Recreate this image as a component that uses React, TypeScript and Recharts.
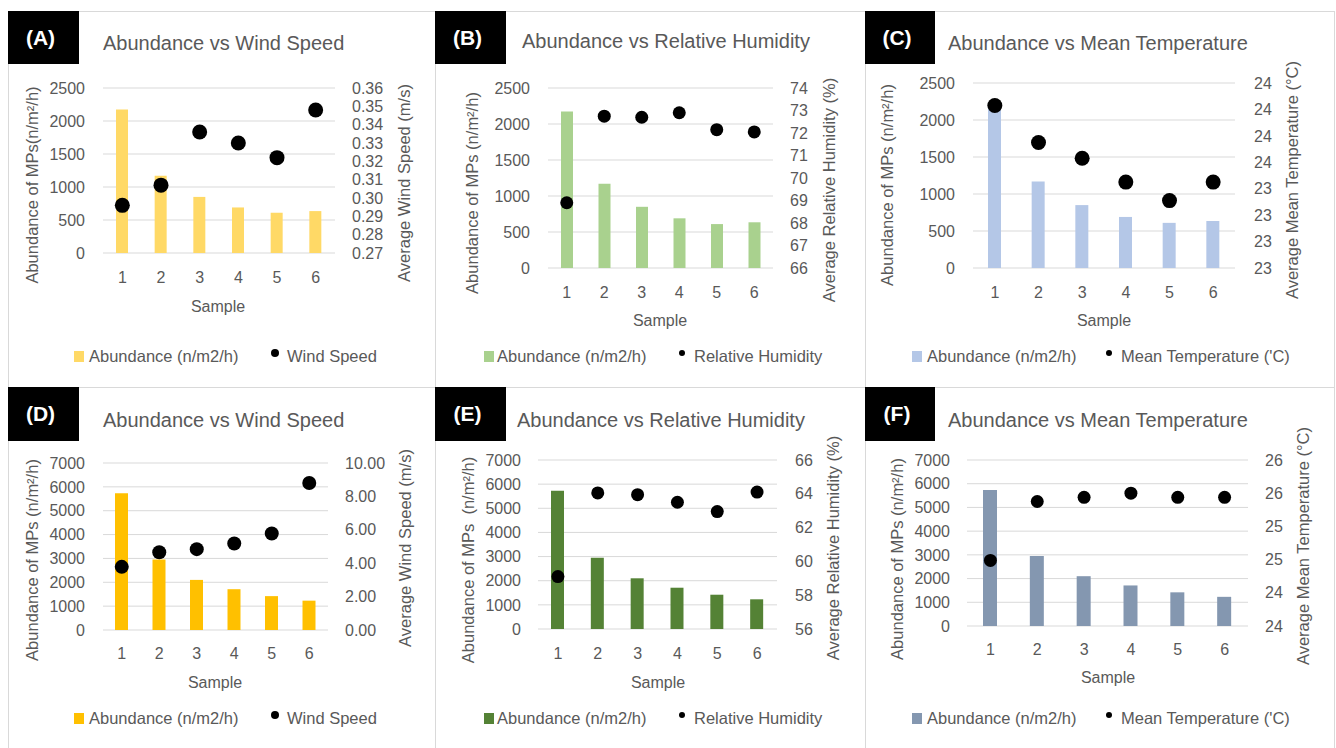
import React from "react";
import {
    ComposedChart,
    Bar,
    Scatter,
    XAxis,
    YAxis,
    CartesianGrid,
} from "recharts";

const SAMPLES = ["1", "2", "3", "4", "5", "6"];

// site 1 (top row)
const ABUNDANCE_SITE1 = [2175, 1170, 850, 690, 610, 635];
const WIND_SITE1 = [0.296, 0.307, 0.336, 0.33, 0.322, 0.348];
const HUMIDITY_SITE1 = [68.9, 72.75, 72.7, 72.9, 72.15, 72.05];
const TEMP_SITE1 = [24.03, 23.75, 23.63, 23.45, 23.31, 23.45];

// site 2 (bottom row)
const ABUNDANCE_SITE2 = [5730, 2950, 2100, 1710, 1420, 1230];
const WIND_SITE2 = [3.78, 4.66, 4.84, 5.18, 5.78, 8.8];
const HUMIDITY_SITE2 = [59.1, 64.05, 63.95, 63.5, 62.95, 64.1];
const TEMP_SITE2 = [24.79, 25.5, 25.55, 25.6, 25.55, 25.55];

const TICKS_ABUND_1 = [0, 500, 1000, 1500, 2000, 2500];
const TICKS_ABUND_2 = [0, 1000, 2000, 3000, 4000, 5000, 6000, 7000];
const TICKS_WIND_1 = [0.27, 0.28, 0.29, 0.3, 0.31, 0.32, 0.33, 0.34, 0.35, 0.36];
const TICKS_HUM_1 = [66, 67, 68, 69, 70, 71, 72, 73, 74];
const TICKS_TEMP_1 = [22.8, 23, 23.2, 23.4, 23.6, 23.8, 24, 24.2];
const TICKS_WIND_2 = [0, 2, 4, 6, 8, 10];
const TICKS_HUM_2 = [56, 58, 60, 62, 64, 66];
const TICKS_TEMP_2 = [24, 24.4, 24.8, 25.2, 25.6, 26];

const FONT = "'Liberation Sans', Arial, sans-serif";
const TEXT = "#595959";
const GRID = "#d9d9d9";

const AXIS_W = 70;
const PAD_T = 14;
const XAXIS_H = 40;

type Panel = {
    tag: string;
    boxX: number;
    boxY: number;
    boxW: number;
    boxH: number;
    title: string;
    titleX: number;
    titleY: number;
    plot: [number, number, number, number];
    abundance: number[];
    met: number[];
    leftTicks: number[];
    rightTicks: number[];
    rightFmt: (v: number) => string;
    gapL: number;
    gapR: number;
    gapX: number;
    barColor: string;
    barSize: number;
    dotR: number;
    leftTitle: string;
    leftTitleX: number;
    leftTitleY: number;
    rightTitle: string;
    rightTitleX: number;
    rightTitleY: number;
    sampleX: number;
    sampleY: number;
    legY: number;
    legSqX: number;
    legTextX: number;
    legDotX: number;
    legDotR: number;
    legTextX2: number;
    metName: string;
};

const fix2 = (v: number) => v.toFixed(2);
const fix0 = (v: number) => v.toFixed(0);

const PANELS: Panel[] = [
    {
        tag: "(A)", boxX: 8, boxY: 11, boxW: 71, boxH: 53,
        title: "Abundance vs Wind Speed", titleX: 103, titleY: 43,
        plot: [103, 88, 335, 253],
        abundance: ABUNDANCE_SITE1, met: WIND_SITE1,
        leftTicks: TICKS_ABUND_1, rightTicks: TICKS_WIND_1, rightFmt: fix2,
        gapL: 18, gapR: 17, gapX: 19,
        barColor: "#FFD966", barSize: 12, dotR: 7.5,
        leftTitle: "Abundance of MPs(n/m²/h)", leftTitleX: 32, leftTitleY: 185,
        rightTitle: "Average Wind Speed (m/s)", rightTitleX: 404, rightTitleY: 183,
        sampleX: 218, sampleY: 307,
        legY: 356, legSqX: 74, legTextX: 89, legDotX: 275, legDotR: 4, legTextX2: 287,
        metName: "Wind Speed",
    },
    {
        tag: "(B)", boxX: 435, boxY: 11, boxW: 71, boxH: 53,
        title: "Abundance vs Relative Humidity", titleX: 522, titleY: 41,
        plot: [548, 88, 773, 268],
        abundance: ABUNDANCE_SITE1, met: HUMIDITY_SITE1,
        leftTicks: TICKS_ABUND_1, rightTicks: TICKS_HUM_1, rightFmt: fix0,
        gapL: 18, gapR: 17, gapX: 19,
        barColor: "#A9D18E", barSize: 12, dotR: 6.5,
        leftTitle: "Abundance of MPs (n/m²/h)", leftTitleX: 472, leftTitleY: 193,
        rightTitle: "Average Relative Humidity (%)", rightTitleX: 829, rightTitleY: 190,
        sampleX: 660, sampleY: 321,
        legY: 356, legSqX: 484, legTextX: 497, legDotX: 682, legDotR: 3, legTextX2: 694,
        metName: "Relative Humidity",
    },
    {
        tag: "(C)", boxX: 865, boxY: 11, boxW: 70, boxH: 53,
        title: "Abundance vs Mean Temperature", titleX: 948, titleY: 43,
        plot: [973, 83, 1235, 268],
        abundance: ABUNDANCE_SITE1, met: TEMP_SITE1,
        leftTicks: TICKS_ABUND_1, rightTicks: TICKS_TEMP_1, rightFmt: fix0,
        gapL: 18, gapR: 19, gapX: 19,
        barColor: "#B4C7E7", barSize: 13, dotR: 7.5,
        leftTitle: "Abundance of MPs (n/m²/h)", leftTitleX: 887, leftTitleY: 185,
        rightTitle: "Average Mean Temperature (°C)", rightTitleX: 1292, rightTitleY: 180,
        sampleX: 1104, sampleY: 321,
        legY: 356, legSqX: 912, legTextX: 927, legDotX: 1109, legDotR: 3, legTextX2: 1121,
        metName: "Mean Temperature ('C)",
    },
    {
        tag: "(D)", boxX: 8, boxY: 387, boxW: 71, boxH: 54,
        title: "Abundance vs Wind Speed", titleX: 103, titleY: 420,
        plot: [103, 463, 328, 630],
        abundance: ABUNDANCE_SITE2, met: WIND_SITE2,
        leftTicks: TICKS_ABUND_2, rightTicks: TICKS_WIND_2, rightFmt: fix2,
        gapL: 18, gapR: 17, gapX: 18,
        barColor: "#FFC000", barSize: 13, dotR: 7,
        leftTitle: "Abundance of MPs (n/m²/h)", leftTitleX: 32, leftTitleY: 560,
        rightTitle: "Average Wind Speed (m/s)", rightTitleX: 405, rightTitleY: 548,
        sampleX: 215, sampleY: 683,
        legY: 718, legSqX: 74, legTextX: 89, legDotX: 275, legDotR: 4, legTextX2: 287,
        metName: "Wind Speed",
    },
    {
        tag: "(E)", boxX: 435, boxY: 387, boxW: 71, boxH: 54,
        title: "Abundance vs Relative Humidity", titleX: 517, titleY: 420,
        plot: [538, 460, 777, 629],
        abundance: ABUNDANCE_SITE2, met: HUMIDITY_SITE2,
        leftTicks: TICKS_ABUND_2, rightTicks: TICKS_HUM_2, rightFmt: fix0,
        gapL: 17, gapR: 18, gapX: 19,
        barColor: "#548235", barSize: 13, dotR: 6.5,
        leftTitle: "Abundance of MPs  (n/m²/h)", leftTitleX: 468, leftTitleY: 560,
        rightTitle: "Average Relative Humidity (%)", rightTitleX: 833, rightTitleY: 548,
        sampleX: 658, sampleY: 683,
        legY: 718, legSqX: 484, legTextX: 497, legDotX: 682, legDotR: 3, legTextX2: 694,
        metName: "Relative Humidity",
    },
    {
        tag: "(F)", boxX: 865, boxY: 387, boxW: 70, boxH: 54,
        title: "Abundance vs Mean Temperature", titleX: 948, titleY: 420,
        plot: [967, 460, 1248, 626],
        abundance: ABUNDANCE_SITE2, met: TEMP_SITE2,
        leftTicks: TICKS_ABUND_2, rightTicks: TICKS_TEMP_2, rightFmt: fix0,
        gapL: 17, gapR: 17, gapX: 18,
        barColor: "#8497B0", barSize: 14, dotR: 6.5,
        leftTitle: "Abundance of MPs (n/m²/h)", leftTitleX: 897, leftTitleY: 559,
        rightTitle: "Average Mean Temperature (°C)", rightTitleX: 1303, rightTitleY: 546,
        sampleX: 1108, sampleY: 678,
        legY: 718, legSqX: 912, legTextX: 927, legDotX: 1109, legDotR: 3, legTextX2: 1121,
        metName: "Mean Temperature ('C)",
    },
];

const abs = (left: number, top: number): React.CSSProperties => ({
    position: "absolute",
    left,
    top,
});

function CenterText({ x, y, text, size = 16, rotate = false }: {
    x: number; y: number; text: string; size?: number; rotate?: boolean;
}) {
    return (
        <div
            style={{
                ...abs(x, y),
                transform: `translate(-50%, -50%)${rotate ? " rotate(-90deg)" : ""}`,
                whiteSpace: "pre",
                fontSize: size,
                lineHeight: 1,
                color: TEXT,
            }}
        >
            {text}
        </div>
    );
}

function ChartPanel({ p }: { p: Panel }) {
    const [x0, y0, x1, y1] = p.plot;
    const width = x1 - x0 + AXIS_W * 2;
    const height = y1 - y0 + PAD_T + XAXIS_H;
    const rows = SAMPLES.map((s, i) => ({
        sample: s,
        abundance: p.abundance[i],
        met: p.met[i],
    }));
    const tick = { fill: TEXT, fontSize: 16, fontFamily: FONT };

    return (
        <>
            <div
                style={{
                    ...abs(p.boxX, p.boxY),
                    width: p.boxW,
                    height: p.boxH,
                    background: "#000",
                    color: "#fff",
                    fontWeight: 700,
                    fontSize: 21,
                    lineHeight: `${p.boxH}px`,
                    textAlign: "center",
                    paddingRight: 6,
                    boxSizing: "border-box",
                }}
            >
                {p.tag}
            </div>
            <div
                style={{
                    ...abs(p.titleX, p.titleY - 12),
                    height: 24,
                    lineHeight: "24px",
                    fontSize: 20,
                    color: TEXT,
                    whiteSpace: "nowrap",
                }}
            >
                {p.title}
            </div>

            <div style={{ ...abs(x0 - AXIS_W, y0 - PAD_T), width, height }}>
                <ComposedChart
                    width={width}
                    height={height}
                    data={rows}
                    margin={{ top: PAD_T, right: 0, bottom: 0, left: 0 }}
                    style={{ fontFamily: FONT }}
                >
                    <CartesianGrid
                        yAxisId="left"
                        vertical={false}
                        stroke={GRID}
                        strokeWidth={1}
                    />
                    <XAxis
                        dataKey="sample"
                        height={XAXIS_H}
                        axisLine={false}
                        tickLine={false}
                        tickSize={0}
                        tickMargin={p.gapX}
                        tick={tick}
                        interval={0}
                    />
                    <YAxis
                        yAxisId="left"
                        orientation="left"
                        width={AXIS_W}
                        domain={[p.leftTicks[0], p.leftTicks[p.leftTicks.length - 1]]}
                        ticks={p.leftTicks}
                        interval={0}
                        axisLine={false}
                        tickLine={false}
                        tickSize={0}
                        tickMargin={p.gapL}
                        tick={tick}
                    />
                    <YAxis
                        yAxisId="right"
                        orientation="right"
                        width={AXIS_W}
                        domain={[p.rightTicks[0], p.rightTicks[p.rightTicks.length - 1]]}
                        ticks={p.rightTicks}
                        interval={0}
                        allowDataOverflow
                        axisLine={false}
                        tickLine={false}
                        tickSize={0}
                        tickMargin={p.gapR}
                        tick={tick}
                        tickFormatter={p.rightFmt}
                    />
                    <Bar
                        yAxisId="left"
                        dataKey="abundance"
                        name="Abundance (n/m2/h)"
                        fill={p.barColor}
                        barSize={p.barSize}
                        isAnimationActive={false}
                    />
                    <Scatter
                        yAxisId="right"
                        dataKey="met"
                        name={p.metName}
                        fill="#000"
                        isAnimationActive={false}
                        shape={(s: any) => (
                            <circle cx={s.cx} cy={s.cy} r={p.dotR} fill="#000" />
                        )}
                    />
                </ComposedChart>
            </div>

            <CenterText x={p.leftTitleX} y={p.leftTitleY} text={p.leftTitle} size={16.5} rotate />
            <CenterText x={p.rightTitleX} y={p.rightTitleY} text={p.rightTitle} size={16.5} rotate />
            <CenterText x={p.sampleX} y={p.sampleY} text="Sample" size={16} />

            <div
                style={{
                    ...abs(p.legSqX, p.legY - 5),
                    width: 10,
                    height: 11,
                    background: p.barColor,
                }}
            />
            <div
                style={{
                    ...abs(p.legTextX, p.legY - 10),
                    fontSize: 16.5,
                    lineHeight: "20px",
                    color: TEXT,
                    whiteSpace: "nowrap",
                }}
            >
                Abundance (n/m2/h)
            </div>
            <div
                style={{
                    ...abs(p.legDotX - p.legDotR, p.legY - 3 - p.legDotR),
                    width: p.legDotR * 2,
                    height: p.legDotR * 2,
                    borderRadius: "50%",
                    background: "#000",
                }}
            />
            <div
                style={{
                    ...abs(p.legTextX2, p.legY - 10),
                    fontSize: 16.5,
                    lineHeight: "20px",
                    color: TEXT,
                    whiteSpace: "nowrap",
                }}
            >
                {p.metName}
            </div>
        </>
    );
}

export default function App() {
    return (
        <div
            style={{
                position: "absolute",
                left: 0,
                top: 0,
                width: 1336,
                height: 748,
                overflow: "hidden",
                background: "#fff",
                fontFamily: FONT,
            }}
        >
            {/* panel frame */}
            <div style={{ ...abs(8, 11), width: 1325, height: 760, border: `1px solid ${GRID}` }} />
            <div style={{ ...abs(435, 11), width: 1, height: 740, background: GRID }} />
            <div style={{ ...abs(865, 11), width: 1, height: 740, background: GRID }} />
            <div style={{ ...abs(8, 387), width: 1326, height: 1, background: GRID }} />
            {PANELS.map((p) => (
                <ChartPanel key={p.tag} p={p} />
            ))}
        </div>
    );
}
